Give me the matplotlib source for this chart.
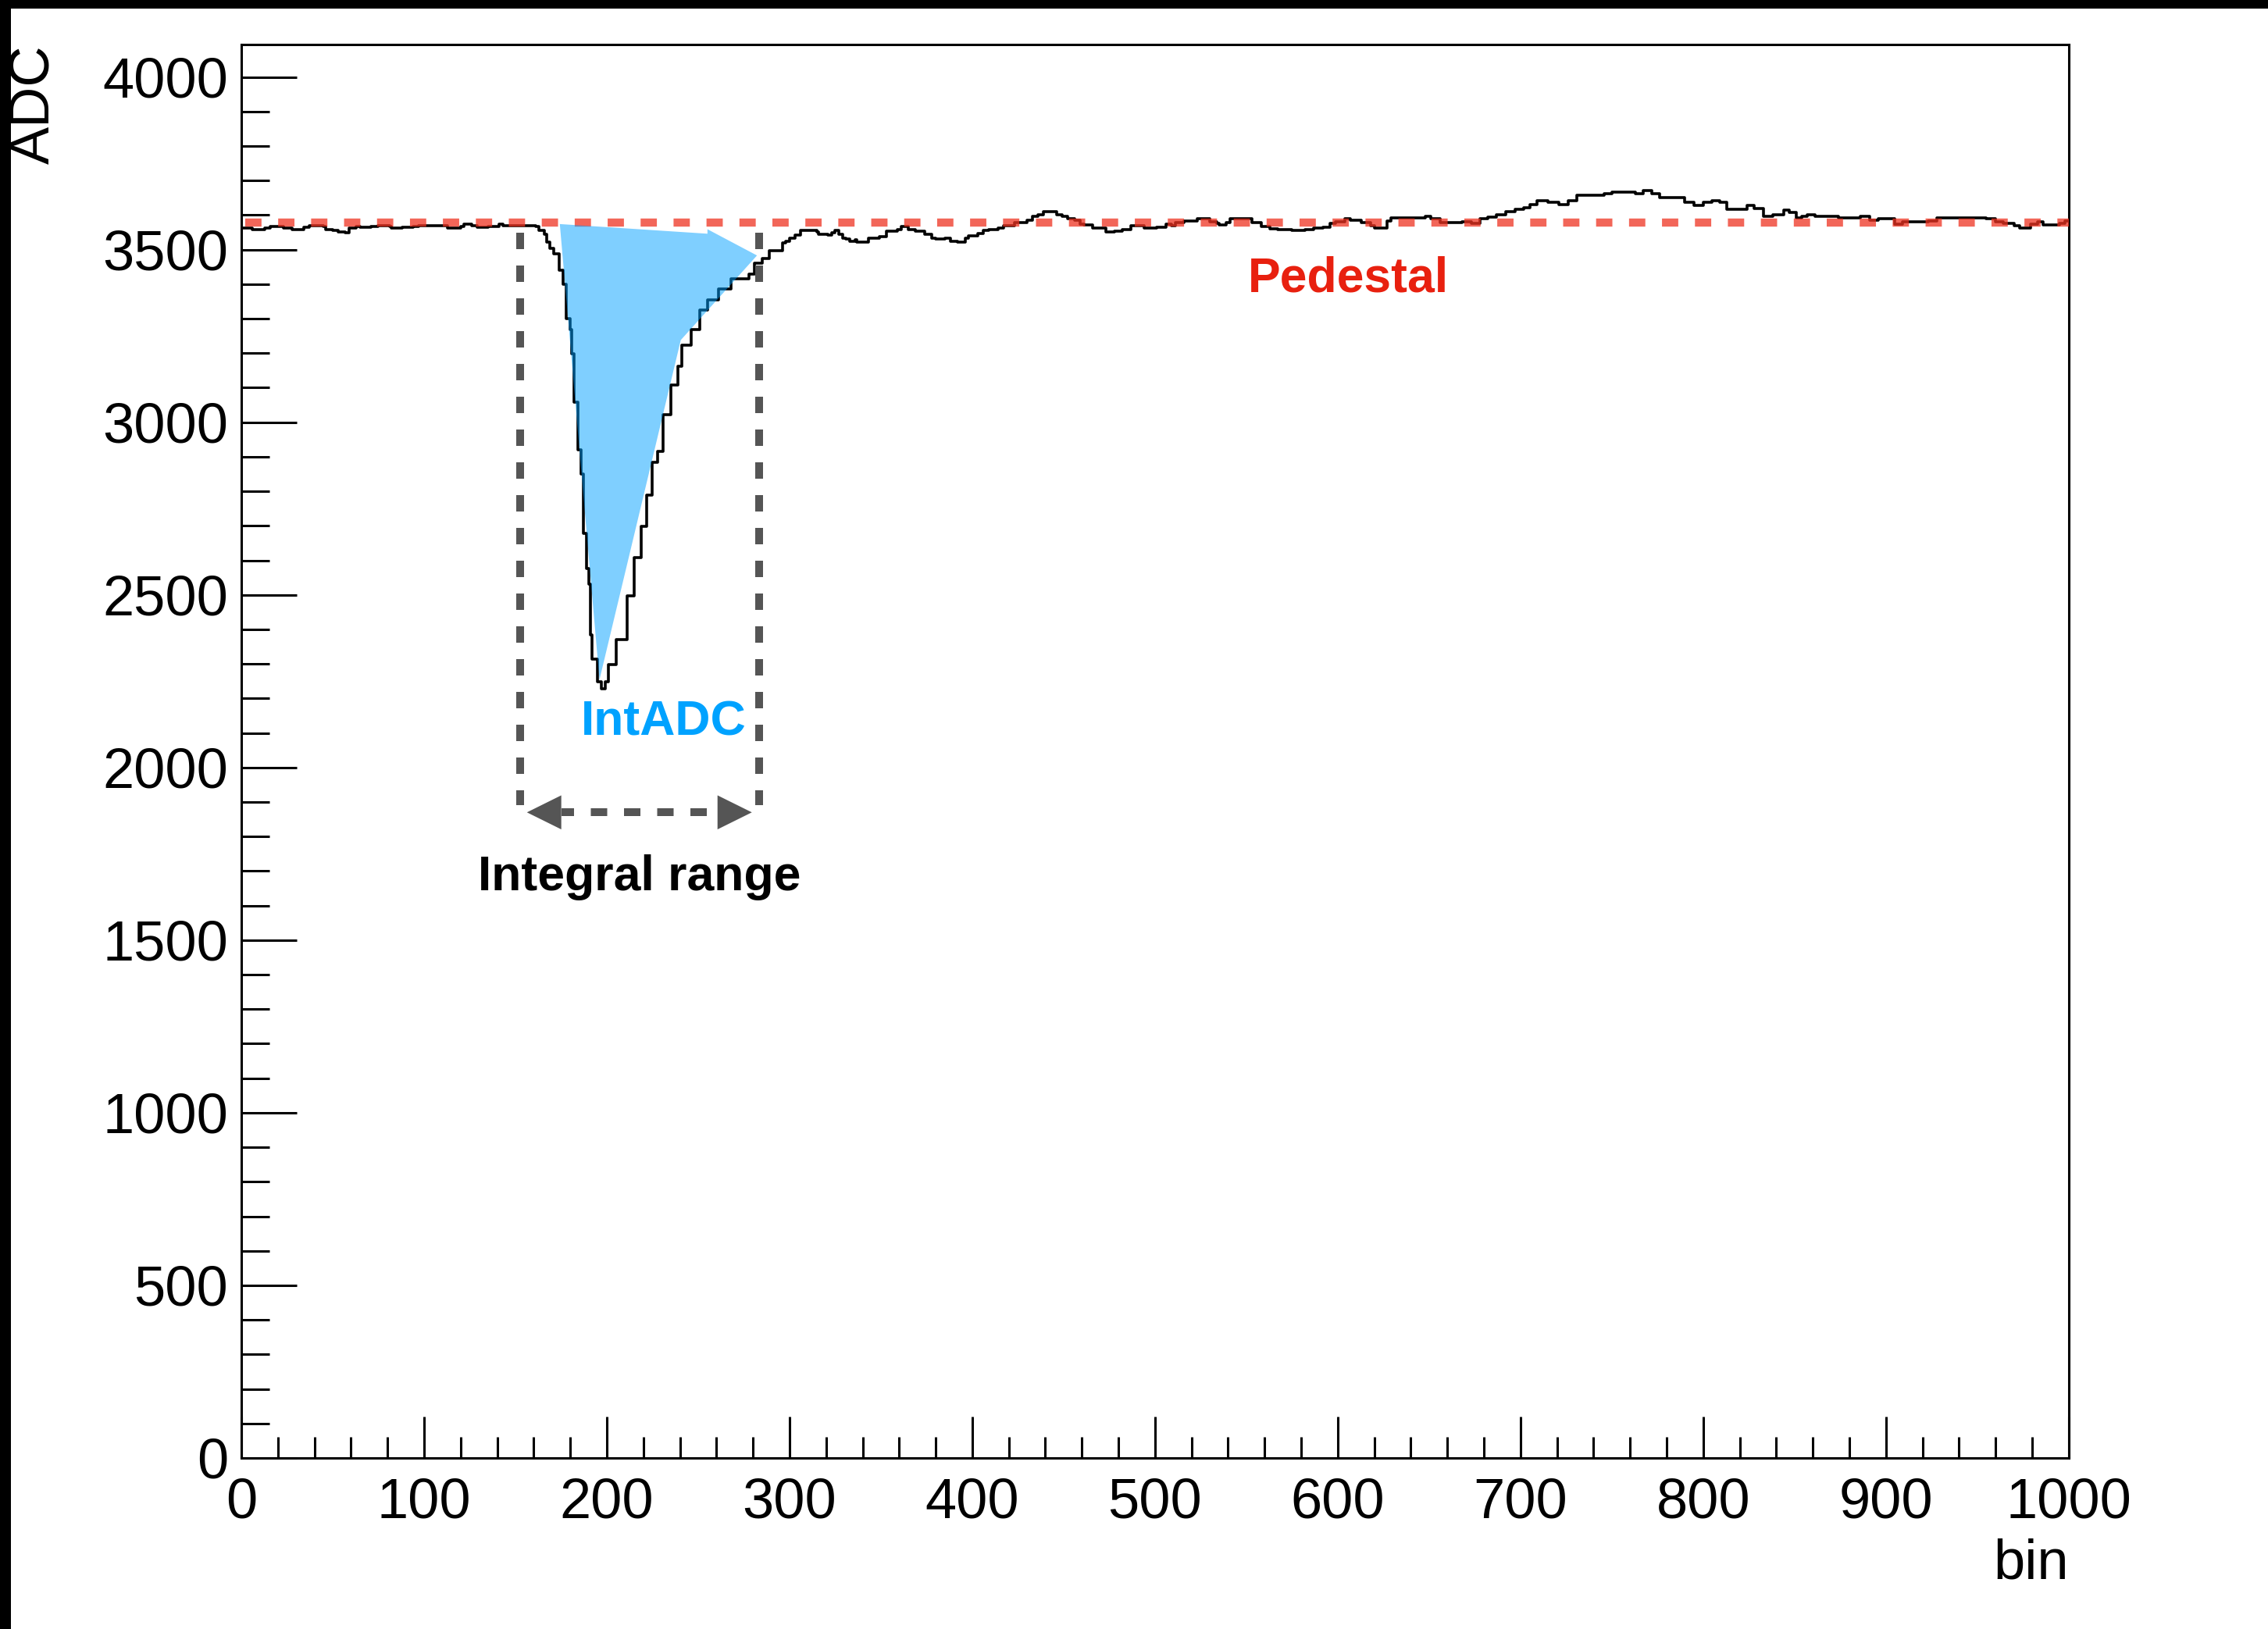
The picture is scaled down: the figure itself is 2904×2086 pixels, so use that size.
import matplotlib
matplotlib.use("Agg")
import matplotlib.pyplot as plt
from matplotlib.patches import Rectangle, Polygon
from matplotlib.ticker import MultipleLocator
import numpy as np

plt.rcParams['font.family'] = ['Liberation Sans', 'DejaVu Sans']

# ── waveform (bin, ADC) ─────────────────────────────────────────────────────
bins = [0, 6, 13, 16, 23, 28, 31, 34, 37, 45, 46, 50, 53, 57, 59, 63, 65, 71,
        75, 81, 82, 88, 94, 97, 113, 120, 122, 126, 129, 135, 141, 143, 161,
        163, 166, 167, 169, 171, 174, 176, 178, 180, 181, 182, 184, 186, 187,
        189, 190, 191, 192, 195, 197, 199, 201, 205, 211, 215, 219, 222, 225,
        228, 231, 235, 239, 241, 246, 251, 255, 261, 268, 278, 281, 285, 289,
        296, 298, 300, 303, 306, 315, 316, 321, 323, 325, 327, 329, 331, 333,
        336, 337, 343, 349, 353, 359, 361, 365, 369, 374, 378, 380, 385, 388,
        392, 396, 398, 403, 406, 409, 414, 417, 423, 430, 433, 436, 439, 446,
        449, 452, 456, 459, 461, 466, 473, 478, 482, 487, 494, 501, 506, 509,
        511, 516, 523, 530, 534, 535, 539, 541, 553, 558, 563, 567, 572, 575,
        582, 587, 592, 596, 599, 604, 607, 613, 618, 620, 627, 629, 648, 651,
        656, 668, 673, 678, 682, 687, 692, 697, 702, 705, 709, 715, 721, 726,
        731, 746, 750, 763, 767, 772, 776, 790, 795, 800, 805, 809, 813, 824,
        828, 833, 838, 844, 847, 851, 854, 857, 861, 874, 886, 891, 896, 905,
        909, 923, 928, 955, 960, 964, 970, 973, 979, 983, 986, 995, 998, 1000]
adc = [3563, 3557, 3563, 3568, 3563, 3557, 3559, 3564, 3570, 3567, 3559, 3555,
       3552, 3548, 3563, 3568, 3564, 3567, 3570, 3568, 3563, 3564, 3567, 3570,
       3563, 3567, 3574, 3570, 3564, 3567, 3574, 3570, 3567, 3555, 3544, 3521,
       3503, 3488, 3440, 3400, 3299, 3269, 3198, 3057, 2920, 2849, 2678, 2577,
       2531, 2385, 2315, 2249, 2229, 2249, 2299, 2370, 2496, 2607, 2698, 2789,
       2885, 2915, 3021, 3107, 3163, 3223, 3269, 3325, 3354, 3385, 3415, 3430,
       3460, 3475, 3496, 3519, 3525, 3533, 3542, 3555, 3552, 3544, 3542, 3549,
       3555, 3544, 3534, 3531, 3523, 3529, 3521, 3533, 3537, 3553, 3559, 3568,
       3559, 3553, 3544, 3534, 3531, 3533, 3525, 3521, 3533, 3539, 3546, 3555,
       3559, 3563, 3570, 3579, 3586, 3597, 3602, 3610, 3602, 3597, 3589, 3586,
       3574, 3572, 3563, 3552, 3554, 3559, 3570, 3563, 3564, 3574, 3570, 3578,
       3582, 3589, 3580, 3576, 3572, 3578, 3589, 3578, 3567, 3561, 3557, 3559,
       3555, 3559, 3563, 3564, 3576, 3580, 3589, 3584, 3578, 3570, 3563, 3582,
       3592, 3597, 3589, 3578, 3580, 3576, 3589, 3595, 3602, 3610, 3616, 3622,
       3631, 3641, 3638, 3631, 3642, 3657, 3662, 3667, 3662, 3670, 3662, 3650,
       3638, 3629, 3636, 3642, 3638, 3617, 3627, 3619, 3597, 3602, 3614, 3608,
       3592, 3597, 3601, 3597, 3593, 3597, 3586, 3589, 3574, 3580, 3582, 3591,
       3589, 3580, 3576, 3570, 3563, 3574, 3580, 3572, 3576, 3582, 3582]

pedestal = 3579
range_lines_x = [152.4, 283.4]
range_lines_y = [3550, 1890]
arrow_x = [156.3, 279.4]
arrow_y = 1870

# hand-drawn "IntADC" area
intadc_x = [174.3, 255.1, 255.1, 282.2, 240.5, 196.0]
intadc_y = [3574, 3546, 3559, 3483, 3238, 2254]

labels = {"Pedestal": (606, 3378), "IntADC": (231, 2093), "Integral range": (218, 1644)}

GRAY = "#555555"

# ── figure ──────────────────────────────────────────────────────────────────
fig = plt.figure(figsize=(29.04, 20.86), dpi=100)
ax = fig.add_axes([0.1064, 0.10499, 0.9121 - 0.1064, 0.97267 - 0.10499])

ax.plot(bins, adc, drawstyle="steps-post", color="black", lw=2.6, zorder=3)

# pedestal line
ax.axhline(pedestal, xmin=0.002, xmax=1, color="#EE3322", alpha=0.75, lw=7.5,
           dashes=(2.0, 2.05), zorder=5)

# integral range box + arrow
for x in range_lines_x:
    ax.plot([x, x], range_lines_y, color=GRAY, lw=7.2, dashes=(2.1, 2.1), zorder=4)
head_len, head_hw = 18.8, 49.3
ax.plot([arrow_x[0] + head_len, arrow_x[1] - head_len], [arrow_y, arrow_y],
        color=GRAY, lw=7.2, linestyle=(0.5, (2.1, 2.15)), zorder=4)
for tip, sgn in [(arrow_x[0], 1), (arrow_x[1], -1)]:
    ax.fill([tip, tip + sgn * head_len, tip + sgn * head_len],
            [arrow_y, arrow_y + head_hw, arrow_y - head_hw],
            color=GRAY, lw=0, zorder=4)

ax.add_patch(Polygon(np.column_stack([intadc_x, intadc_y]), closed=True,
                     facecolor="#00A0FF", alpha=0.5, lw=0, zorder=6))

ax.text(*labels["Pedestal"], "Pedestal", color="#E8200F", fontsize=45,
        fontweight="bold", ha="center", va="baseline", zorder=7)
ax.text(*labels["IntADC"], "IntADC", color="#00A2FF", fontsize=45,
        fontweight="bold", ha="center", va="baseline", zorder=7)
ax.text(*labels["Integral range"], "Integral range", color="black", fontsize=45,
        fontweight="bold", ha="center", va="baseline", zorder=7)

# ROOT-ish axes
ax.set_xlim(0, 1000)
ax.set_ylim(0, 4094)
ax.xaxis.set_major_locator(MultipleLocator(100))
ax.xaxis.set_minor_locator(MultipleLocator(20))
ax.yaxis.set_major_locator(MultipleLocator(500))
ax.yaxis.set_minor_locator(MultipleLocator(100))
ax.tick_params(which="both", direction="in", top=False, right=False, width=2.2)
ax.tick_params(axis="x", which="major", length=38, pad=18, labelsize=52)
ax.tick_params(axis="x", which="minor", length=19.4)
ax.tick_params(axis="y", which="major", length=51, pad=12, labelsize=52)
ax.tick_params(axis="y", which="minor", length=26)
for s in ax.spines.values():
    s.set_linewidth(2.2)

fig.text(44 / 2904, 1 - 57 / 2086, "ADC", rotation=90, ha="center", va="top",
         fontsize=52)
fig.text(2648.6 / 2904, 1 - 1970 / 2086, "bin", ha="right", va="top", fontsize=52)

# black screenshot edges
fig.add_artist(Rectangle((0, 1 - 11 / 2086), 1, 11 / 2086,
                         transform=fig.transFigure, color="black", lw=0))
fig.add_artist(Rectangle((0, 0), 14 / 2904, 1,
                         transform=fig.transFigure, color="black", lw=0))

fig.savefig("out.png", dpi=100)
